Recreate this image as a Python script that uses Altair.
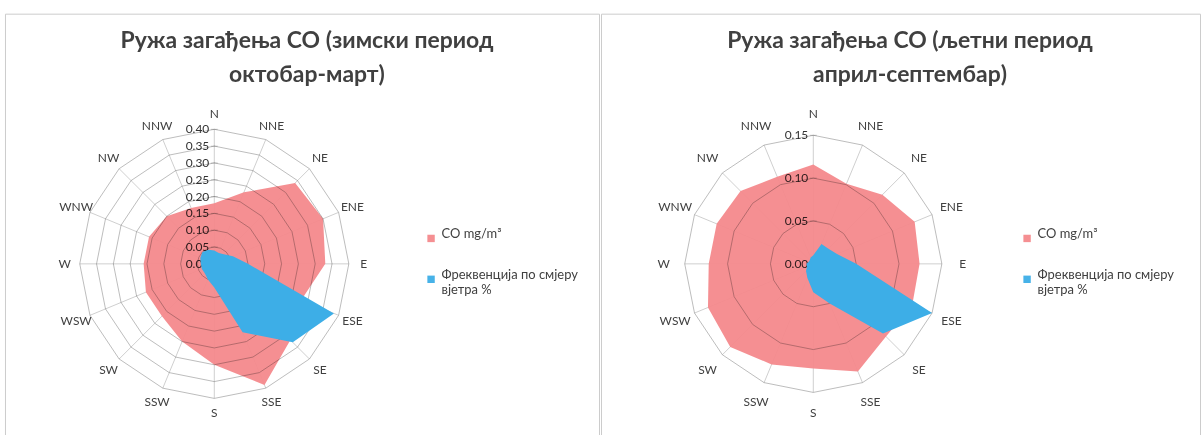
import altair as alt
import pandas as pd

# ---------------- data ----------------
directions = ["N", "NNE", "NE", "ENE", "E", "ESE", "SE", "SSE",
              "S", "SSW", "SW", "WSW", "W", "WNW", "NW", "NNW"]

series_names = ["CO mg/m³", "Фреквенција по смјеру вјетра %"]

# winter (October - March)
winter_co = [0.18, 0.23, 0.34, 0.35, 0.33, 0.28, 0.32, 0.39,
             0.30, 0.25, 0.22, 0.22, 0.21, 0.21, 0.20, 0.18]
winter_freq = [0.04, 0.035, 0.04, 0.06, 0.10, 0.385, 0.33, 0.22,
               0.07, 0.05, 0.04, 0.04, 0.04, 0.045, 0.05, 0.045]
winter_rings = [0.05, 0.10, 0.15, 0.20, 0.25, 0.30, 0.35, 0.40]
winter_ticks = ["0.00", "0.05", "0.10", "0.15", "0.20", "0.25", "0.30", "0.35", "0.40"]

# summer (April - September)
summer_co = [0.116, 0.101, 0.114, 0.128, 0.124, 0.125, 0.12, 0.136,
             0.122, 0.127, 0.137, 0.133, 0.122, 0.122, 0.12, 0.11]
summer_freq = [0.01, 0.025, 0.025, 0.03, 0.05, 0.15, 0.115, 0.05,
               0.033, 0.018, 0.012, 0.008, 0.008, 0.006, 0.006, 0.008]
summer_rings = [0.05, 0.10, 0.15]
summer_ticks = ["0.00", "0.05", "0.10", "0.15"]

title_winter = ["Ружа загађења CO (зимски период", "октобар-март)"]
title_summer = ["Ружа загађења CO (љетни период", "април-септембар)"]

PINK = "#F4898C"
BLUE = "#3DAEE7"
TEXT = "#404040"
FONT = "Lato"

N = len(directions)


def polygon_df(values, name):
    rows = []
    for i in range(N + 1):
        rows.append({"i": i, "r": values[i % N], "series": name})
    return pd.DataFrame(rows)


def rings_df(rings):
    rows = []
    for r in rings:
        for i in range(N + 1):
            rows.append({"i": i, "r": r, "ring": r})
    return pd.DataFrame(rows)


def panel(co, freq, rings, ticks, cx, cy, rad_px, label_px, width, height,
          title, title_x):
    rmax = rings[-1]
    k = rad_px / rmax
    xs = alt.Scale(domain=[-cx / k, (width - cx) / k], nice=False, zero=False)
    ys = alt.Scale(domain=[-(height - cy) / k, cy / k], nice=False, zero=False)
    xy = dict(
        x=alt.X("x:Q", scale=xs, axis=None),
        y=alt.Y("y:Q", scale=ys, axis=None),
    )
    calc = dict(x="datum.r*sin(datum.i*PI/8)", y="datum.r*cos(datum.i*PI/8)")

    color = alt.Color(
        "series:N",
        scale=alt.Scale(domain=series_names, range=[PINK, BLUE]),
        legend=alt.Legend(
            orient="none", legendX=421, legendY=219, title=None,
            symbolType="square", symbolSize=55, symbolStrokeWidth=0,
            labelFont=FONT, labelFontSize=13, labelColor=TEXT,
            rowPadding=26, labelBaseline="alphabetic", labelOffset=4,
            labelExpr="datum.label == '" + series_names[1] +
                      "' ? ['Фреквенција по смјеру', 'вјетра %'] : datum.label",
        ),
    )

    spoke_data = pd.DataFrame({"i": list(range(N)), "r": [rmax] * N})
    spokes = alt.Chart(spoke_data).transform_calculate(
        x0="0", y0="0", **calc
    ).mark_rule(color="#CFCFCF", strokeWidth=1).encode(
        x=alt.X("x0:Q", scale=xs, axis=None),
        y=alt.Y("y0:Q", scale=ys, axis=None),
        x2="x:Q", y2="y:Q",
    )

    pink = alt.Chart(polygon_df(co, series_names[0])).transform_calculate(**calc).mark_line(
        filled=True, opacity=0.95
    ).encode(order="i:Q", color=color, **xy)

    ring = alt.Chart(rings_df(rings)).transform_calculate(**calc).mark_line(
        color="#BDBDBD", strokeWidth=1, blend="multiply"
    ).encode(order="i:Q", detail="ring:N", **xy)

    tick_data = pd.DataFrame({
        "label": ticks,
        "r": [0.0] + rings,
        "i": [0] * len(ticks),
    })
    tick_marks = alt.Chart(tick_data).transform_calculate(**calc).mark_tick(
        orient="horizontal", size=7, thickness=1, color="#BDBDBD", blend="multiply"
    ).encode(**xy)
    tick_text = alt.Chart(tick_data).transform_calculate(**calc).mark_text(
        align="right", baseline="middle", dx=-5, font=FONT, fontSize=12,
        color="#333333", blend="multiply"
    ).encode(text="label:N", **xy)

    blue = alt.Chart(polygon_df(freq, series_names[1])).transform_calculate(**calc).mark_line(
        filled=True
    ).encode(order="i:Q", color=color, **xy)

    lab_data = pd.DataFrame({
        "label": directions,
        "i": list(range(N)),
        "r": [label_px / k] * N,
    })
    labels = alt.Chart(lab_data).transform_calculate(**calc).mark_text(
        align="center", baseline="middle", font=FONT, fontSize=12, color=TEXT
    ).encode(text="label:N", **xy)

    title_mark = alt.Chart(pd.DataFrame({"t": [0]})).mark_text(
        align="center", baseline="top", font=FONT, fontSize=23,
        fontWeight="bold", color=TEXT, lineHeight=35,
    ).encode(
        x=alt.value(title_x), y=alt.value(16), text=alt.value(title)
    )

    return alt.layer(spokes, pink, ring, tick_marks, tick_text, blue, labels,
                     title_mark).properties(width=width, height=height)


H = 423
left = panel(winter_co, winter_freq, winter_rings, winter_ticks,
             cx=210, cy=251, rad_px=135, label_px=150, width=596, height=H,
             title=title_winter, title_x=303)
right = panel(summer_co, summer_freq, summer_rings, summer_ticks,
              cx=213, cy=251, rad_px=129, label_px=150, width=601, height=H,
              title=title_summer, title_x=310)

chart = alt.hconcat(left, right, spacing=0).resolve_scale(
    x="independent", y="independent", color="independent"
).resolve_legend(color="independent").properties(
    padding={"left": 4, "top": 12, "right": 0, "bottom": 0},
    background="white",
).configure_view(stroke="#CCCCCC", strokeWidth=1)

chart.save("out.html", embed_options={"renderer": "svg", "actions": False})
